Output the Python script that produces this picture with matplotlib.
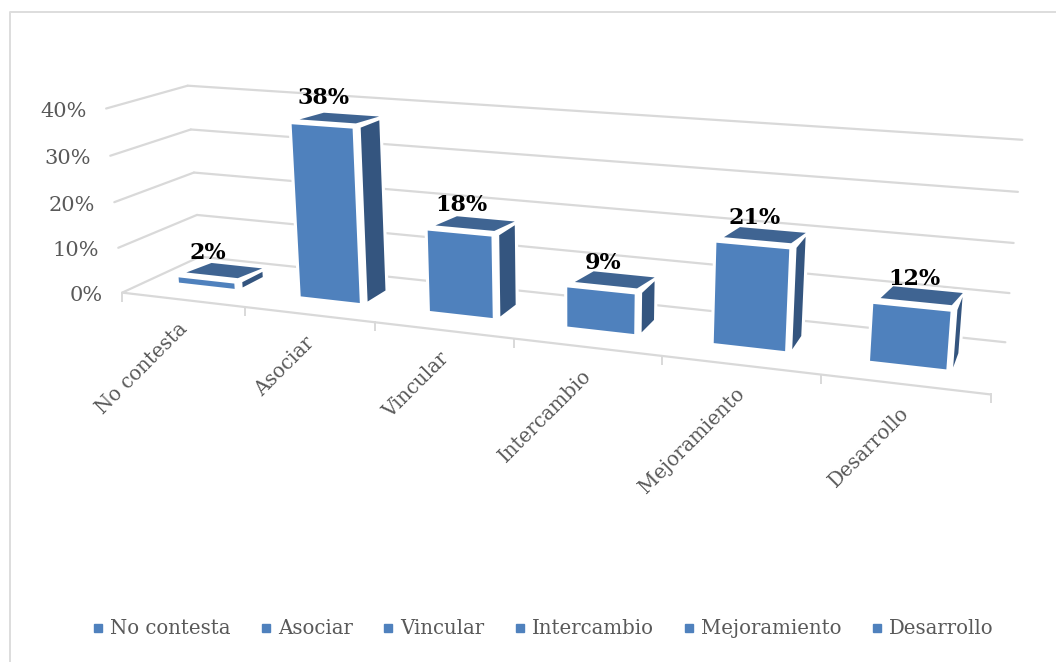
import numpy as np
import matplotlib
matplotlib.use("Agg")
import matplotlib.pyplot as plt
from matplotlib.patches import Polygon
from matplotlib.lines import Line2D

categories = ["No contesta", "Asociar", "Vincular", "Intercambio", "Mejoramiento", "Desarrollo"]
values = [2, 38, 18, 9, 21, 12]
value_labels = ["2%", "38%", "18%", "9%", "21%", "12%"]
y_ticks = [0, 10, 20, 30, 40]
y_tick_labels = ["0%", "10%", "20%", "30%", "40%"]

FRONT, SIDE, TOP = "#4F81BD", "#34557F", "#3F6492"
GRID = "#D9D9D9"
TEXT = "#595959"
SERIF = "DejaVu Serif"

# Camera calibration: (category, value, depth) -> reference pixel, solved once for a 3D perspective scale
cal_world = np.array([
    (0, 0, 0), (1, 0, 0), (2, 0, 0), (3, 0, 0), (4, 0, 0), (5, 0, 0), (6, 0, 0),
    (0, 0, 1), (6, 0, 1), (0, 10, 0), (0, 20, 0), (0, 30, 0), (0, 40, 0),
    (0, 10, 1), (0, 20, 1), (0, 30, 1), (0, 40, 1),
    (6, 10, 1), (6, 20, 1), (6, 30, 1), (6, 40, 1)], float)
cal_pixel = np.array([
    (123, 291), (245, 307), (376, 322), (514, 340), (662, 357), (821, 377), (990, 393),
    (200, 257), (1005, 341), (118, 247), (113, 202), (110, 156), (107, 108),
    (197, 215), (193, 173), (191, 130), (188, 86),
    (1010, 293), (1014, 243), (1018, 191), (1022, 140)], float)


def solve_camera(world, pixel):
    rows, rhs = [], []
    for (X, Y, Z), (u, v) in zip(world, pixel):
        rows.append([X, Y, Z, 1, 0, 0, 0, 0, -u * X, -u * Y, -u * Z])
        rhs.append(u)
        rows.append([0, 0, 0, 0, X, Y, Z, 1, -v * X, -v * Y, -v * Z])
        rhs.append(v)
    p = np.linalg.lstsq(np.array(rows), np.array(rhs), rcond=None)[0]
    return np.append(p, 1.0).reshape(3, 4)


CAM = solve_camera(cal_world, cal_pixel)


def proj(x, v, d):
    h = CAM @ np.array([x, v, d, 1.0])
    return h[0] / h[2], h[1] / h[2]


fig = plt.figure(figsize=(10.56, 6.62), dpi=100)
ax = fig.add_axes([0, 0, 1, 1])
ax.set_xlim(0, 1056)
ax.set_ylim(662, 0)
ax.axis("off")

# chart frame: only the top and left edges fall inside the picture
ax.plot([9.5, 9.5, 1056], [662, 11.5, 11.5], color="#DDDDDD", lw=1.4, zorder=1)


def seg(a, b, **kw):
    pa, pb = proj(*a), proj(*b)
    ax.plot([pa[0], pb[0]], [pa[1], pb[1]], color=GRID, lw=1.6, solid_capstyle="round", zorder=2, **kw)


n = len(categories)
for t, lab in zip(y_ticks, y_tick_labels):
    seg((0, t, 0), (0, t, 1))
    seg((0, t, 1), (n, t, 1))
    px, py = proj(0, t, 0)
    ax.annotate(lab, (px, py), xytext=(-19, -3), textcoords="offset pixels", ha="right", va="center",
                color=TEXT, fontsize=15, family=SERIF, zorder=6)
seg((0, 0, 0), (n, 0, 0))
for i in range(n + 1):
    px, py = proj(i, 0, 0)
    ax.plot([px, px], [py, py + 8], color=GRID, lw=1.4, zorder=2)

# bars
X0, X1 = 0.24, 0.74
D0, D1 = 0.35, 0.68
BX, BD, BV = 0.035, 0.05, 0.8
for i, val in enumerate(values):
    x0, x1 = i + X0, i + X1
    front = [proj(x0, 0, D0), proj(x1 - BX, 0, D0), proj(x1 - BX, val - BV, D0), proj(x0, val - BV, D0)]
    side = [proj(x1, 0, D0 + BD), proj(x1, 0, D1), proj(x1, val - BV, D1), proj(x1, val - BV, D0 + BD)]
    top = [proj(x0 + BX, val, D0 + BD), proj(x1 - BX, val, D0 + BD), proj(x1, val, D1), proj(x0 + 2 * BX, val, D1)]
    backing = [front[0], front[1], side[0], side[1], side[2], top[2], top[3], top[0], front[3]]
    ax.add_patch(Polygon(backing, closed=True, fc="white", ec="white", lw=4.5, joinstyle="round", zorder=3 + 0.01 * i))
    ax.add_patch(Polygon(front, closed=True, fc=FRONT, ec="none", zorder=3.5 + 0.01 * i))
    ax.add_patch(Polygon(side, closed=True, fc=SIDE, ec="none", zorder=3.5 + 0.01 * i))
    ax.add_patch(Polygon(top, closed=True, fc=TOP, ec="none", zorder=3.5 + 0.01 * i))
    tx, ty = proj(i + 0.5, val, 0.37)
    ax.annotate(value_labels[i], (tx, ty), xytext=(-3, 13), textcoords="offset pixels", ha="center", va="bottom",
                color="black", fontsize=16, fontweight="bold", family=SERIF, zorder=7)
    lx, ly = proj(i + 0.5, 0, 0)
    ax.annotate(categories[i], (lx, ly), xytext=(-5, -19), textcoords="offset pixels", ha="right", va="top",
                rotation=45, rotation_mode="anchor", color=TEXT, fontsize=14.2, family=SERIF, zorder=6)

handles = [Line2D([], [], ls="", marker="s", ms=5.5, color=FRONT, label=c) for c in categories]
ax.legend(handles=handles, ncol=6, loc="center", bbox_to_anchor=(541 / 1056, 1 - 629 / 662),
          bbox_transform=fig.transFigure, frameon=False, handletextpad=0.1, columnspacing=1.3,
          handlelength=1.0, labelcolor=TEXT, prop={"family": SERIF, "size": 14.2})

fig.savefig("out.png", dpi=100)
